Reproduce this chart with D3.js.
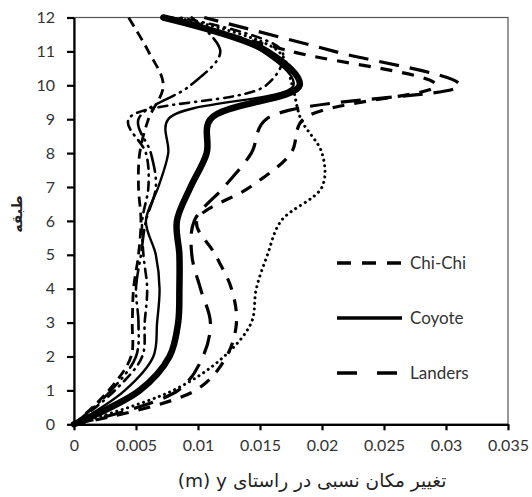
<!DOCTYPE html>
<html><head><meta charset="utf-8">
<script src="https://cdn.jsdelivr.net/npm/d3@7"></script>
<style>html,body{margin:0;padding:0;background:#fff}svg{display:block}</style>
</head><body>
<svg id="chart" width="532" height="497"></svg>
<script>
// ---------------- data ----------------
const floors = [0,1,2,3,4,5,6,7,8,9,10,11,12];
const xTicks = [0,0.005,0.01,0.015,0.02,0.025,0.03,0.035];
const xTickLabels = ["0","0.005","0.01","0.015","0.02","0.025","0.03","0.035"];
const yTicks = [0,1,2,3,4,5,6,7,8,9,10,11,12];
const yTickLabels = ["0","1","2","3","4","5","6","7","8","9","10","11","12"];

const chiChi  = [0,0.0098,0.0123,0.0131,0.0127,0.0114,0.0099,0.0142,0.0175,0.0185,0.0292,0.0175,0.0078];
const coyote  = [0,0.0041,0.0064,0.0067,0.0069,0.0066,0.0058,0.0068,0.0076,0.0076,0.0177,0.0152,0.0074];
const landers = [0,0.0084,0.0104,0.0110,0.0102,0.0095,0.0097,0.0121,0.0143,0.0155,0.0311,0.0210,0.0105];
const boldSeries   = [0,0.0053,0.0077,0.0084,0.0085,0.0085,0.0083,0.0094,0.0107,0.0110,0.0182,0.0156,0.0072];
const dottedSeries = [0,0.0080,0.0121,0.0143,0.0147,0.0156,0.0167,0.0200,0.0200,0.0183,0.0176,0.0165,0.0082];
const dashLeft     = [0,0.0028,0.0046,0.0047,0.0048,0.0052,0.0054,0.0052,0.0053,0.0060,0.0072,0.0060,0.0044];
const dashDotA     = [0,0.0033,0.0055,0.0057,0.0059,0.0056,0.0055,0.0060,0.0058,0.0044,0.0155,0.0168,0.0085];
const dashDotB     = [0,0.0030,0.0050,0.0052,0.0050,0.0054,0.0058,0.0066,0.0062,0.0052,0.0094,0.0118,0.0095];

const legendNames = ["Chi-Chi","Coyote","Landers"];
const xLabel = "تغییر مکان نسبی  در راستای";
const xLabelLatin = "(m) y ";
const yLabel = "طبقه";

// ---------------- layout ----------------
const svg = d3.select("#chart");
const L = 74, R = 508, T = 17.5, B = 424.3;
const x = d3.scaleLinear().domain([0,0.035]).range([L,R]);
const y = d3.scaleLinear().domain([0,12]).range([B,T]);

const series = [
  {values: dashDotA, w: 2.6, dash: "9,6,1,6", cap: "round"},
  {values: dashDotB, w: 2.6, dash: "20,6,1,6,1,6", cap: "round"},
  {values: dashLeft, w: 2.8, dash: "10,6", cap: "butt"},
  {values: dottedSeries, w: 3, dash: "0.1,5.5", cap: "round"},
  {values: coyote, w: 2.4, dash: null, cap: "butt"},
  {values: landers, w: 3.2, dash: "20,11", cap: "butt"},
  {values: chiChi, w: 3.2, dash: "12,10", cap: "butt"},
  {values: boldSeries, w: 6.5, dash: null, cap: "round"}
];

const line = vals => d3.line()
  .x((d,i) => x(vals[i]))
  .y((d,i) => y(floors[i]))
  .curve(d3.curveCatmullRom.alpha(0.5))(floors);

// plot border (top/right)
svg.append("rect").attr("x",L).attr("y",T).attr("width",R-L).attr("height",B-T)
  .attr("fill","none").attr("stroke","#555").attr("stroke-width",1.2);

series.forEach(s => {
  svg.append("path").attr("d", line(s.values))
    .attr("fill","none").attr("stroke","#000")
    .attr("stroke-width", s.w)
    .attr("stroke-dasharray", s.dash)
    .attr("stroke-linecap", s.cap)
    .attr("stroke-linejoin","round");
});

// axes
const fontTick = "Lato, 'Open Sans', sans-serif";
const xAxis = d3.axisBottom(x).tickValues(xTicks).tickFormat((d,i)=>xTickLabels[i]).tickSizeInner(6).tickSizeOuter(0).tickPadding(9);
const gx = svg.append("g").attr("transform",`translate(0,${B})`).call(xAxis);
const yAxis = d3.axisLeft(y).tickValues(yTicks).tickFormat((d,i)=>yTickLabels[i]).tickSizeInner(7).tickSizeOuter(0).tickPadding(12);
const gy = svg.append("g").attr("transform",`translate(${L},0)`).call(yAxis);
[gx,gy].forEach(g=>{
  g.select(".domain").attr("stroke","#000").attr("stroke-width",2.2);
  g.selectAll(".tick line").attr("stroke","#000").attr("stroke-width",2.2);
  g.selectAll(".tick text").attr("fill","#333").style("font-family",fontTick).style("font-size","16px");
});

// axis titles
svg.append("text").attr("x",312).attr("y",487).attr("text-anchor","middle")
  .attr("direction","ltr")
  .style("font-family","'DejaVu Sans', sans-serif").style("font-size","18.5px").attr("fill","#222")
  .text(xLabelLatin + xLabel);
svg.append("text").attr("transform","translate(22,214) rotate(-90)").attr("text-anchor","middle")
  .style("font-family","'DejaVu Sans', sans-serif").style("font-size","14px").style("font-weight","bold").attr("fill","#222")
  .text(yLabel);

// legend
const legendStyles = [series[6], series[4], series[5]];
const legY = [263, 318, 373];
legendNames.forEach((n,i)=>{
  svg.append("line").attr("x1",337).attr("x2",402).attr("y1",legY[i]).attr("y2",legY[i])
    .attr("stroke","#000").attr("stroke-width",3.5).attr("stroke-dasharray", i===0?"14,11":(i===2?"20,20":null));
  svg.append("text").attr("x",410).attr("y",legY[i]).attr("dy","0.35em")
    .style("font-family",fontTick).style("font-size","17px").attr("fill","#333").text(n);
});
</script>
</body></html>
